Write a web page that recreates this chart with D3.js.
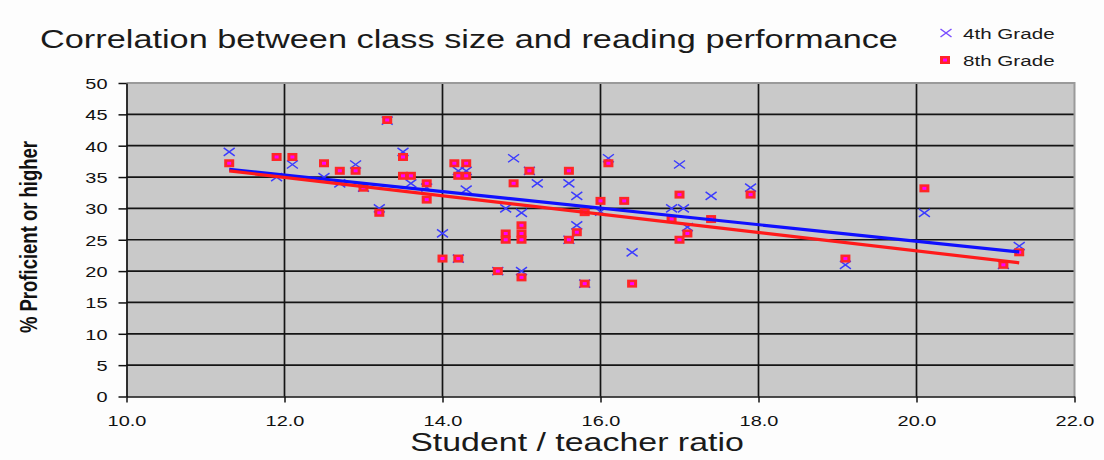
<!DOCTYPE html>
<html>
<head>
<meta charset="utf-8">
<script src="https://cdn.jsdelivr.net/npm/d3@7"></script>
<style>
  html, body { margin: 0; padding: 0; background: #fdfdfd; }
  svg { display: block; font-family: "Liberation Sans", Arial, sans-serif; }
</style>
</head>
<body>
<svg id="chart" width="1104" height="460"></svg>
<script>
// Student/teacher ratio (x) and % proficient or higher (y) per state
const grade4Ratio = [11.3, 11.9, 12.1, 12.5, 12.7, 12.9, 13.0, 13.2, 13.3, 13.5, 13.6, 13.8, 14.0, 14.2, 14.2,
  14.3, 14.3, 14.7, 14.8, 14.9, 15.0, 15.0, 15.1, 15.2, 15.6, 15.6, 15.7, 15.7, 15.8, 16.0, 16.1, 16.4,
  16.9, 17.0, 17.05, 17.1, 17.4, 17.9, 19.1, 20.1, 21.1, 21.3];
const grade4Pct = [39, 35, 37, 35, 34, 37, 33.3, 30, 44, 39, 34, 33.3, 26, 36, 22,
  36, 33, 20, 30, 38, 29.3, 20, 36, 34, 34, 25, 32, 27.3, 18, 29.5, 38, 23,
  30, 37, 30, 27, 32, 33.3, 21, 29.3, 21, 24];

const grade8Ratio = [11.3, 11.9, 12.1, 12.5, 12.7, 12.9, 13.0, 13.2, 13.3, 13.5, 13.5, 13.6, 13.8, 13.8, 14.0,
  14.15, 14.2, 14.2, 14.3, 14.3, 14.7, 14.8, 14.8, 14.9, 15.0, 15.0, 15.0, 15.0, 15.1, 15.6, 15.6, 15.7,
  15.8, 15.8, 16.0, 16.1, 16.3, 16.4, 16.9, 17.0, 17.0, 17.1, 17.4, 17.9, 19.1, 20.1, 21.1, 21.3];
const grade8Pct = [37.2, 38.2, 38.2, 37.2, 36, 36, 33.3, 29.3, 44.1, 38.2, 35.2, 35.2, 34, 31.4, 22,
  37.2, 22, 35.2, 37.2, 35.2, 20, 26, 25, 34, 27.3, 26, 25, 19, 36, 36, 25, 26.2,
  29.4, 18, 31.2, 37.2, 31.2, 18, 28.3, 32.2, 25, 26, 28.3, 32.2, 22, 33.2, 21, 23];

const xTicks = [10, 12, 14, 16, 18, 20, 22];
const yTicks = [0, 5, 10, 15, 20, 25, 30, 35, 40, 45, 50];
const seriesNames = ["4th Grade", "8th Grade"];
const chartTitle = "Correlation between class size and reading performance";
const xTitle = "Student / teacher ratio";
const yTitle = "% Proficient or higher";

// text in this chart is rendered horizontally widened
const SX = 1.33;

const svg = d3.select("#chart");
const plotL = 126.5, plotR = 1074.5, plotT = 83, plotB = 396.5;
const x = d3.scaleLinear().domain([10, 22]).range([plotL, plotR]);
const y = d3.scaleLinear().domain([0, 50]).range([plotB, plotT]);

function wideText(g, px, py, str, size, anchor, weight, color) {
  return g.append("text")
    .attr("transform", `translate(${px},${py}) scale(${SX},1)`)
    .attr("text-anchor", anchor || "start")
    .attr("font-size", size)
    .attr("font-weight", weight || "normal")
    .attr("fill", color || "#111")
    .text(str);
}

// plot area
svg.append("rect")
  .attr("x", plotL).attr("y", plotT)
  .attr("width", plotR - plotL).attr("height", plotB - plotT)
  .attr("fill", "#c9c9c9");

// gridlines
const grid = svg.append("g");
grid.selectAll("line.h").data(yTicks.filter(v => v > 0 && v < 50)).join("line")
  .attr("x1", plotL).attr("x2", plotR)
  .attr("y1", d => y(d)).attr("y2", d => y(d))
  .attr("stroke", "#141414").attr("stroke-width", 1.7);
grid.selectAll("line.v").data(xTicks.filter(v => v > 10 && v < 22)).join("line")
  .attr("y1", plotT).attr("y2", plotB)
  .attr("x1", d => x(d)).attr("x2", d => x(d))
  .attr("stroke", "#141414").attr("stroke-width", 1.7);

// plot border (top and right)
svg.append("path")
  .attr("d", `M${plotL},${plotT}H${plotR}V${plotB}`)
  .attr("fill", "none").attr("stroke", "#9a9a9a").attr("stroke-width", 2);

// axes
const yAxis = svg.append("g")
  .attr("transform", `translate(${plotL},0)`)
  .call(d3.axisLeft(y).tickValues(yTicks).tickSize(8).tickSizeOuter(0).tickFormat(d3.format("d")));
yAxis.select(".domain").attr("stroke", "#111").attr("stroke-width", 1.7);
yAxis.selectAll(".tick line").attr("stroke", "#111").attr("stroke-width", 1.5);
yAxis.selectAll(".tick text")
  .attr("x", -19 / SX).attr("dy", "0.36em")
  .attr("transform", `scale(${SX},1)`)
  .attr("font-size", 15).attr("fill", "#111")
  .attr("font-family", "Liberation Sans, Arial, sans-serif");

const xAxis = svg.append("g")
  .attr("transform", `translate(0,${plotB})`)
  .call(d3.axisBottom(x).tickValues(xTicks).tickSize(6).tickSizeOuter(0).tickFormat(d3.format(".1f")));
xAxis.select(".domain").attr("stroke", "#111").attr("stroke-width", 1.7);
xAxis.selectAll(".tick line").attr("stroke", "#111").attr("stroke-width", 1.5);
xAxis.selectAll(".tick text")
  .attr("y", 0).attr("dy", 0)
  .attr("transform", `translate(0,29) scale(${SX},1)`)
  .attr("font-size", 15).attr("fill", "#111")
  .attr("font-family", "Liberation Sans, Arial, sans-serif");

// markers
const xMark = "M-5.5,-4L5.5,4M-5.5,4L5.5,-4";
const pts4 = grade4Ratio.map((r, i) => ({ r, p: grade4Pct[i] }));
const pts8 = grade8Ratio.map((r, i) => ({ r, p: grade8Pct[i] }));

svg.append("g").selectAll("path").data(pts4).join("path")
  .attr("transform", d => `translate(${x(d.r)},${y(d.p)})`)
  .attr("d", xMark)
  .attr("stroke", "#3b3bff").attr("stroke-width", 1.5).attr("fill", "none");

function square(g) {
  g.append("rect").attr("x", -5).attr("y", -4).attr("width", 10).attr("height", 8).attr("fill", "#ff2626");
  g.append("rect").attr("x", -2).attr("y", -1.5).attr("width", 4).attr("height", 3).attr("fill", "#ff00ff");
}
svg.append("g").selectAll("g").data(pts8).join("g")
  .attr("transform", d => `translate(${x(d.r)},${y(d.p)})`)
  .each(function () { square(d3.select(this)); });

// least-squares trendlines
function fit(xs, ys) {
  const n = xs.length;
  const mx = d3.mean(xs), my = d3.mean(ys);
  let sxy = 0, sxx = 0;
  for (let i = 0; i < n; i++) { sxy += (xs[i] - mx) * (ys[i] - my); sxx += (xs[i] - mx) ** 2; }
  const b = sxy / sxx, a = my - b * mx;
  const [x0, x1] = d3.extent(xs);
  return [[x0, a + b * x0], [x1, a + b * x1]];
}
const line = d3.line().x(d => x(d[0])).y(d => y(d[1]));
svg.append("path").datum(fit(grade4Ratio, grade4Pct)).attr("d", line)
  .attr("stroke", "#1010ff").attr("stroke-width", 3.2).attr("fill", "none");
svg.append("path").datum(fit(grade8Ratio, grade8Pct)).attr("d", line)
  .attr("stroke", "#ff1a1a").attr("stroke-width", 3.2).attr("fill", "none");

// titles
wideText(svg, 40, 48, chartTitle, 25.8, "start", "normal", "#1a1a1a");
wideText(svg, 577, 451, xTitle, 25.5, "middle", "normal", "#1a1a1a");
svg.append("text")
  .attr("transform", `translate(37,237) scale(${SX},1) rotate(-90)`)
  .attr("text-anchor", "middle")
  .attr("font-size", 18.5).attr("font-weight", "bold").attr("fill", "#111")
  .text(yTitle);

// legend
const lg = svg.append("g");
lg.append("path").attr("transform", "translate(946,33)").attr("d", xMark)
  .attr("stroke", "#7a4dff").attr("stroke-width", 1.5).attr("fill", "none");
lg.append("g").attr("transform", "translate(945,60)").call(square);
wideText(lg, 963, 39, seriesNames[0], 15.5, "start", "normal", "#1a1a1a");
wideText(lg, 963, 66, seriesNames[1], 15.5, "start", "normal", "#1a1a1a");
</script>
</body>
</html>
